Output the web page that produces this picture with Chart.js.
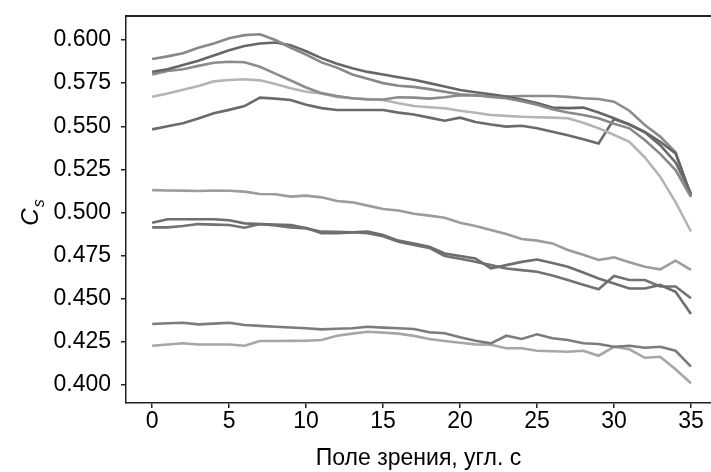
<!DOCTYPE html>
<html><head><meta charset="utf-8">
<script src="https://cdn.jsdelivr.net/npm/chart.js@4.4.1/dist/chart.umd.min.js"></script>
<style>html,body{margin:0;padding:0;background:#fff}#wrap{width:711px;height:472px;position:relative}</style>
</head><body><div id="wrap"><canvas id="c" width="711" height="472"></canvas></div>
<script>
const angles = [0,1,2,3,4,5,6,7,8,9,10,11,12,13,14,15,16,17,18,19,20,21,22,23,24,25,26,27,28,29,30,31,32,33,34,35];
const xTicks = [0,5,10,15,20,25,30,35];
const yTicks = [0.400,0.425,0.450,0.475,0.500,0.525,0.550,0.575,0.600];
const xTitle = "Поле зрения, угл. с";

const seriesA = [0.589,0.5905,0.5923,0.5955,0.598,0.601,0.6028,0.6033,0.600,0.5955,0.5915,0.587,0.584,0.580,0.5775,0.575,0.5735,0.5728,0.5715,0.570,0.5685,0.568,0.567,0.5662,0.5645,0.5625,0.5598,0.558,0.5565,0.5546,0.5515,0.5488,0.542,0.534,0.5246,0.509];
const seriesB = [0.5815,0.583,0.5855,0.588,0.591,0.594,0.5965,0.598,0.5985,0.597,0.5935,0.5895,0.5862,0.5836,0.5815,0.580,0.5784,0.577,0.575,0.573,0.571,0.5697,0.5685,0.5672,0.5655,0.5635,0.5608,0.5605,0.5608,0.558,0.5546,0.551,0.5468,0.541,0.5343,0.510];
const seriesC = [0.580,0.582,0.583,0.585,0.5868,0.5874,0.5871,0.5845,0.5805,0.5765,0.5725,0.5692,0.5675,0.5662,0.5655,0.5655,0.5668,0.5666,0.566,0.5668,0.568,0.5678,0.5675,0.5672,0.5675,0.5675,0.5675,0.567,0.5662,0.5658,0.5642,0.559,0.5507,0.544,0.535,0.5095];
const seriesD = [0.5671,0.569,0.5712,0.5733,0.576,0.5768,0.5772,0.5766,0.5745,0.572,0.570,0.569,0.567,0.5662,0.5658,0.5652,0.5633,0.5617,0.561,0.5604,0.559,0.5578,0.5565,0.556,0.5555,0.5552,0.555,0.5546,0.552,0.5488,0.545,0.541,0.532,0.5208,0.506,0.489];
const seriesE = [0.5482,0.550,0.5517,0.5545,0.5575,0.5595,0.5617,0.5666,0.566,0.5652,0.5625,0.5605,0.5594,0.5594,0.5594,0.5594,0.5579,0.5568,0.555,0.5532,0.555,0.5525,0.551,0.5498,0.5503,0.5488,0.5468,0.5448,0.5425,0.540,0.5542,0.551,0.5465,0.539,0.529,0.511];
const seriesF = [0.513,0.5128,0.5127,0.5125,0.5128,0.5126,0.5121,0.5107,0.5106,0.5092,0.5098,0.5088,0.5067,0.5059,0.504,0.502,0.5012,0.4993,0.4982,0.497,0.4941,0.4922,0.4899,0.4875,0.4846,0.4837,0.4821,0.4783,0.4755,0.4725,0.474,0.4712,0.4686,0.4671,0.4721,0.4667];
const seriesG = [0.4941,0.4961,0.4961,0.4961,0.4961,0.4955,0.4937,0.4933,0.493,0.4928,0.491,0.488,0.488,0.4885,0.4889,0.487,0.4837,0.482,0.4802,0.4763,0.4748,0.4734,0.4676,0.4695,0.4714,0.4728,0.4708,0.4686,0.4652,0.4618,0.4589,0.456,0.456,0.458,0.4541,0.4412];
const seriesH = [0.4914,0.4914,0.4922,0.4933,0.493,0.4928,0.4912,0.4933,0.4925,0.4914,0.4908,0.4889,0.4888,0.4886,0.488,0.4862,0.483,0.4812,0.4795,0.4748,0.4732,0.4715,0.4695,0.4676,0.4666,0.4657,0.4635,0.4609,0.4582,0.4555,0.4632,0.4609,0.4609,0.4571,0.4571,0.4503];
const seriesI = [0.4354,0.4358,0.4361,0.4352,0.4356,0.4361,0.4348,0.4343,0.4338,0.4334,0.4329,0.4323,0.4326,0.4329,0.4338,0.4333,0.4329,0.4325,0.4306,0.430,0.4277,0.4257,0.4242,0.4286,0.4267,0.4294,0.4271,0.4261,0.4242,0.4238,0.4222,0.4228,0.4216,0.4222,0.4199,0.4107];
const seriesJ = [0.4228,0.4235,0.4242,0.4235,0.4235,0.4235,0.4228,0.4255,0.4255,0.4256,0.4257,0.4261,0.4286,0.4298,0.4309,0.4304,0.4298,0.4285,0.4267,0.4255,0.4245,0.4236,0.4234,0.4213,0.4213,0.4199,0.4196,0.4193,0.4199,0.417,0.4222,0.4207,0.4158,0.4164,0.4091,0.401];

const allSeries = [seriesA,seriesB,seriesC,seriesD,seriesE,seriesF,seriesG,seriesH,seriesI,seriesJ];
const colors = ['#888888','#666666','#8c8c8c','#b4b4b4','#6a6a6a','#9c9c9c','#6e6e6e','#727272','#7c7c7c','#a6a6a6'];

const FONT = "'Liberation Sans', Arial, sans-serif";

const extras = {
  id: 'extras',
  afterDraw(chart) {
    const ctx = chart.ctx, a = chart.chartArea;
    ctx.save();
    ctx.strokeStyle = '#222';
    ctx.lineWidth = 2;
    ctx.beginPath();
    ctx.moveTo(a.left, a.top);
    ctx.lineTo(chart.width, a.top);
    ctx.stroke();
    // y title C_s
    ctx.translate(30, 213);
    ctx.rotate(-Math.PI / 2);
    ctx.fillStyle = '#000';
    ctx.textBaseline = 'alphabetic';
    ctx.font = 'italic 24px ' + FONT;
    const wC = ctx.measureText('C').width;
    ctx.font = 'italic 16px ' + FONT;
    const wS = ctx.measureText('s').width;
    const x0 = -(wC + wS) / 2;
    ctx.font = 'italic 24px ' + FONT;
    ctx.fillText('C', x0, 8);
    ctx.font = 'italic 16px ' + FONT;
    ctx.fillText('s', x0 + wC + 1, 14);
    ctx.restore();
  }
};

new Chart(document.getElementById('c'), {
  type: 'line',
  data: {
    datasets: allSeries.map((s, k) => ({
      data: s.map((v, i) => ({ x: angles[i], y: v })),
      borderColor: colors[k],
      borderWidth: 2.6,
      pointRadius: 0,
      tension: 0,
      fill: false
    }))
  },
  options: {
    responsive: false,
    animation: false,
    devicePixelRatio: 1,
    layout: { padding: { top: 16, right: 0, left: 0, bottom: 0 } },
    plugins: { legend: { display: false }, tooltip: { enabled: false } },
    scales: {
      x: {
        type: 'linear',
        min: -1.7, max: 36.3,
        afterBuildTicks: s => { s.ticks = xTicks.map(v => ({ value: v })); },
        afterFit: s => { s.height = 69; s.paddingLeft = 0; s.paddingRight = 0; },
        grid: { drawOnChartArea: false, drawTicks: true, tickLength: 5, color: '#222', lineWidth: 1.5 },
        border: { display: true, color: '#222', width: 1.5, dash: [2, 1] },
        ticks: { color: '#000', font: { family: FONT, size: 23 }, padding: 0, maxRotation: 0 },
        title: { display: true, text: xTitle, color: '#000', font: { family: FONT, size: 23 }, padding: { top: 0, bottom: 0 } }
      },
      y: {
        type: 'linear',
        min: 0.3896, max: 0.6139,
        afterBuildTicks: s => { s.ticks = yTicks.map(v => ({ value: v })); },
        afterFit: s => { s.width = 126; s.paddingTop = 0; s.paddingBottom = 0; },
        grid: { drawOnChartArea: false, drawTicks: true, tickLength: 5, color: '#222', lineWidth: 1.5 },
        border: { display: true, color: '#222', width: 1.5, dash: [2, 1] },
        ticks: { color: '#000', font: { family: FONT, size: 23 }, padding: 10, callback: v => Number(v).toFixed(3) }
      }
    }
  },
  plugins: [extras]
});
</script></body></html>
